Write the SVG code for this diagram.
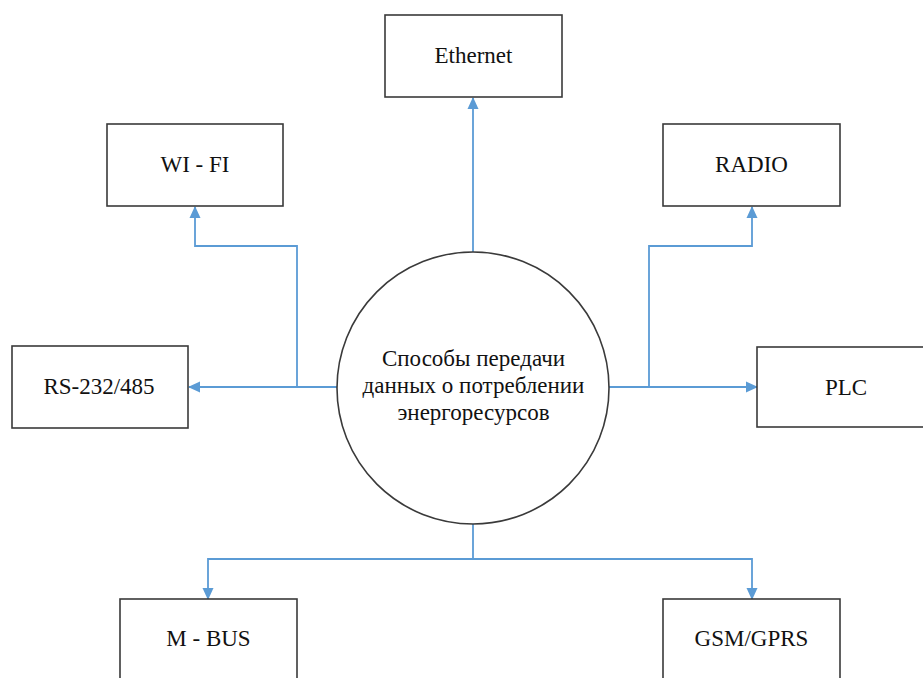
<svg xmlns="http://www.w3.org/2000/svg" width="923" height="678" viewBox="0 0 923 678">
<style>
.box{fill:#ffffff;stroke:#3a3a3a;stroke-width:1.6}
.lbl{font-family:'Liberation Serif','Times New Roman',serif;font-size:23px;fill:#111;text-anchor:middle}
.conn{fill:none;stroke:#5B9BD5;stroke-width:1.8}
</style>
<defs>
<marker id="arr" markerUnits="userSpaceOnUse" markerWidth="12" markerHeight="12" viewBox="0 0 12 12" refX="11" refY="6" orient="auto">
<path d="M0,0.5 L12,6 L0,11.5 Z" fill="#5B9BD5"/>
</marker>
</defs>
<rect width="923" height="678" fill="#ffffff"/>
<g id="connectors">
<path class="conn" d="M473,252 V98" marker-end="url(#arr)"/>
<path class="conn" d="M337,387 H189" marker-end="url(#arr)"/>
<path class="conn" d="M297,387 V246 H195 V207" marker-end="url(#arr)"/>
<path class="conn" d="M609,387 H757" marker-end="url(#arr)"/>
<path class="conn" d="M649,387 V246 H752 V207" marker-end="url(#arr)"/>
<path class="conn" d="M473,524 V559"/>
<path class="conn" d="M473,559 H208 V599" marker-end="url(#arr)"/>
<path class="conn" d="M473,559 H752 V599" marker-end="url(#arr)"/>
</g>
<g id="center">
<circle cx="473" cy="388" r="136" fill="#ffffff" stroke="#3a3a3a" stroke-width="1.6"/>
<text class="lbl" x="473.5" y="366">Способы передачи</text>
<text class="lbl" x="473.5" y="393">данных о потреблении</text>
<text class="lbl" x="473.5" y="420">энергоресурсов</text>
</g>
<g id="ethernet">
<rect class="box" x="385" y="15" width="177" height="82"/>
<text class="lbl" x="473.5" y="63">Ethernet</text>
</g>
<g id="wifi">
<rect class="box" x="107" y="124" width="176" height="82"/>
<text class="lbl" x="195" y="172">WI - FI</text>
</g>
<g id="radio">
<rect class="box" x="663" y="124" width="177" height="82"/>
<text class="lbl" x="751.5" y="172">RADIO</text>
</g>
<g id="rs">
<rect class="box" x="12" y="346" width="176" height="82"/>
<text class="lbl" x="99" y="394">RS-232/485</text>
</g>
<g id="plc">
<rect class="box" x="757" y="347" width="178" height="80"/>
<text class="lbl" x="846" y="395">PLC</text>
</g>
<g id="mbus">
<rect class="box" x="120" y="599" width="177" height="82"/>
<text class="lbl" x="208.5" y="646">M - BUS</text>
</g>
<g id="gsm">
<rect class="box" x="663" y="599" width="177" height="82"/>
<text class="lbl" x="751.5" y="646">GSM/GPRS</text>
</g>
</svg>
